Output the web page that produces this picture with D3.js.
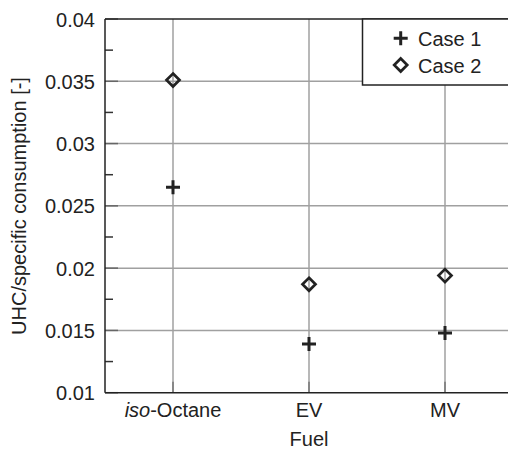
<!DOCTYPE html>
<html><head><meta charset="utf-8">
<script src="https://cdn.jsdelivr.net/npm/d3@7"></script>
<style>body{margin:0;background:#fff}text{font-family:"Liberation Sans",Arial,sans-serif;fill:#222}</style>
</head><body><svg id="c" width="508" height="451"></svg>
<script>
const categories = ["iso-Octane", "EV", "MV"];
const case1 = [0.0265, 0.0139, 0.0148];
const case2 = [0.0351, 0.0187, 0.0194];
const yTicks = [0.01, 0.015, 0.02, 0.025, 0.03, 0.035, 0.04];
const yTickLabels = ["0.01", "0.015", "0.02", "0.025", "0.03", "0.035", "0.04"];
const yMinor = [0.0125, 0.0175, 0.0225, 0.0275, 0.0325, 0.0375];
const seriesNames = ["Case 1", "Case 2"];

const svg = d3.select("#c");
const L = 105, T = 19, B = 392.7;
const x = d3.scaleLinear().domain([0.5, 3.5]).range([L, L + 3 * 136]);
const y = d3.scaleLinear().domain([0.01, 0.04]).range([B, T]);
const R = 520;
const FS = 20;

// grid
svg.append("g").selectAll("line").data(yTicks.slice(1, -1)).join("line")
  .attr("x1", L).attr("x2", R).attr("y1", d => y(d)).attr("y2", d => y(d))
  .attr("stroke", "#a0a0a0").attr("stroke-width", 1.5);
svg.append("g").selectAll("line").data(categories).join("line")
  .attr("x1", (d, i) => x(i + 1)).attr("x2", (d, i) => x(i + 1)).attr("y1", T).attr("y2", B)
  .attr("stroke", "#a0a0a0").attr("stroke-width", 1.5);
// ticks
svg.append("g").selectAll("line").data(yTicks).join("line")
  .attr("x1", L).attr("x2", L + 13).attr("y1", d => y(d)).attr("y2", d => y(d))
  .attr("stroke", "#666").attr("stroke-width", 1.5);
svg.append("g").selectAll("line").data(yMinor).join("line")
  .attr("x1", L).attr("x2", L + 8).attr("y1", d => y(d)).attr("y2", d => y(d))
  .attr("stroke", "#333").attr("stroke-width", 1.5);
svg.append("g").selectAll("line").data(categories).join("line")
  .attr("x1", (d, i) => x(i + 1)).attr("x2", (d, i) => x(i + 1)).attr("y1", B).attr("y2", B - 11)
  .attr("stroke", "#777").attr("stroke-width", 1.5);
// axes lines
svg.append("line").attr("x1", L).attr("x2", L).attr("y1", T).attr("y2", B).attr("stroke", "#222").attr("stroke-width", 1.5);
svg.append("line").attr("x1", L).attr("x2", R).attr("y1", B).attr("y2", B).attr("stroke", "#222").attr("stroke-width", 1.5);
svg.append("line").attr("x1", L).attr("x2", R).attr("y1", T).attr("y2", T).attr("stroke", "#222").attr("stroke-width", 1.5);

// y tick labels
svg.append("g").selectAll("text").data(yTicks).join("text")
  .attr("x", L - 10).attr("y", d => y(d) + 7.5).attr("text-anchor", "end")
  .attr("font-size", FS).text((d, i) => yTickLabels[i]);
// x tick labels
const xl = svg.append("g").selectAll("text").data(categories).join("text")
  .attr("x", (d, i) => x(i + 1)).attr("y", 417).attr("text-anchor", "middle").attr("font-size", FS);
xl.each(function(d) {
  const t = d3.select(this);
  if (d.startsWith("iso-")) {
    t.append("tspan").attr("font-style", "italic").text("iso");
    t.append("tspan").text(d.slice(3));
  } else t.text(d);
});
svg.append("text").attr("x", x(2)).attr("y", 446).attr("text-anchor", "middle").attr("font-size", FS).text("Fuel");
svg.append("text").attr("transform", `translate(26,206) rotate(-90)`).attr("text-anchor", "middle")
  .attr("font-size", FS).text("UHC/specific consumption [-]");

function plus(g, cx, cy, s) {
  g.append("path").attr("d", `M${cx - s},${cy}H${cx + s}M${cx},${cy - s}V${cy + s}`)
    .attr("stroke", "#222").attr("stroke-width", 3).attr("fill", "none");
}
function diamond(g, cx, cy, s) {
  g.append("path").attr("d", `M${cx},${cy - s}L${cx + s},${cy}L${cx},${cy + s}L${cx - s},${cy}Z`)
    .attr("stroke", "#222").attr("stroke-width", 2.7).attr("fill", "none");
}
const pts = svg.append("g");
case1.forEach((v, i) => plus(pts, x(i + 1), y(v), 7));
case2.forEach((v, i) => diamond(pts, x(i + 1), y(v), 6.5));

// legend
const lg = svg.append("g");
lg.append("rect").attr("x", 362.5).attr("y", T).attr("width", 160).attr("height", 66)
  .attr("fill", "#fff").attr("stroke", "#222").attr("stroke-width", 1.5);
plus(lg, 400.7, 38.3, 7);
diamond(lg, 400.7, 65, 6.5);
lg.append("text").attr("x", 418).attr("y", 45.5).attr("font-size", FS).text(seriesNames[0]);
lg.append("text").attr("x", 418).attr("y", 73).attr("font-size", FS).text(seriesNames[1]);
</script></body></html>
